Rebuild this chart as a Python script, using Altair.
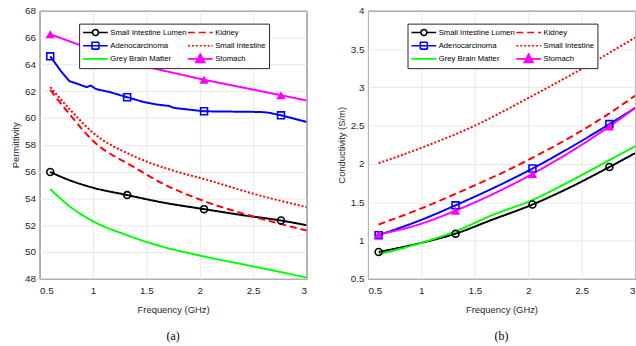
import altair as alt
import pandas as pd

# ---------------- data ----------------
TISSUES = ["Small Intestine Lumen", "Adenocarcinoma", "Grey Brain Matter",
           "Kidney", "Small Intestine", "Stomach"]
COLORS = ["#000000", "#0000ff", "#00ff00", "#ff0000", "#ff0000", "#ff00ff"]
DASHES = [[1, 0], [1, 0], [1, 0], [7, 4], [2, 2], [1, 0]]
MARKER_F = [0.6, 1.32, 2.04, 2.76]

# (a) permittivity
a_lumen_f = [0.6, 0.8, 1.0, 1.32, 1.65, 2.04, 2.4, 2.76, 3.0]
a_lumen_v = [55.97, 55.3, 54.8, 54.25, 53.7, 53.2, 52.75, 52.35, 52.0]
a_kidney_f = [0.6, 0.8, 1.0, 1.37, 1.68, 2.04, 2.5, 3.0]
a_kidney_v = [62.1, 60.1, 58.3, 56.4, 55.0, 53.8, 52.65, 51.6]
a_adeno_f = [0.6, 0.7, 0.78, 0.86, 0.94, 0.98, 1.03, 1.15, 1.32, 1.47,
             1.6, 1.71, 1.76, 2.04, 2.57, 2.64, 2.76, 3.0]
a_adeno_v = [64.6, 63.5, 62.75, 62.54, 62.3, 62.42, 62.15, 61.95, 61.55, 61.2,
             61.0, 60.9, 60.75, 60.5, 60.45, 60.4, 60.2, 59.7]
a_si_f = [0.6, 0.8, 1.0, 1.37, 1.74, 2.04, 2.5, 3.0]
a_si_v = [62.3, 60.5, 58.9, 57.2, 56.1, 55.45, 54.35, 53.35]
a_grey_f = [0.6, 0.8, 1.0, 1.32, 1.65, 2.04, 2.5, 3.0]
a_grey_v = [54.7, 53.3, 52.3, 51.25, 50.4, 49.67, 48.93, 48.1]
a_stom_f = [0.6, 1.32, 2.04, 2.76, 3.0]
a_stom_v = [66.25, 64.15, 62.85, 61.7, 61.3]

# (b) conductivity
b_lumen_f = [0.6, 1.0, 1.32, 1.66, 2.04, 2.4, 2.76, 3.0]
b_lumen_v = [0.85, 0.97, 1.09, 1.27, 1.47, 1.70, 1.96, 2.14]
b_kidney_f = [0.6, 1.0, 1.32, 2.04, 2.76, 3.0]
b_kidney_v = [1.21, 1.42, 1.61, 2.08, 2.66, 2.89]
b_adeno_f = [0.6, 1.0, 1.32, 2.04, 2.76, 3.0]
b_adeno_v = [1.07, 1.27, 1.46, 1.94, 2.52, 2.73]
b_si_f = [0.6, 1.0, 1.5, 2.0, 2.5, 3.0]
b_si_v = [2.01, 2.21, 2.50, 2.86, 3.24, 3.65]
b_grey_f = [0.6, 1.0, 1.32, 1.66, 2.04, 2.4, 2.76, 3.0]
b_grey_v = [0.82, 0.97, 1.12, 1.33, 1.53, 1.78, 2.05, 2.23]
b_stom_f = [0.6, 1.0, 1.32, 2.04, 2.76, 3.0]
b_stom_v = [1.08, 1.22, 1.39, 1.87, 2.49, 2.73]

X_TICKS = [0.5, 1, 1.5, 2, 2.5, 3]
A_TICKS = [48, 50, 52, 54, 56, 58, 60, 62, 64, 66, 68]
B_TICKS = [0.5, 1, 1.5, 2, 2.5, 3, 3.5, 4]

SANS = "Liberation Sans"

def make_df(series):
    rows = []
    for name, fs, vs in series:
        for f, v in zip(fs, vs):
            rows.append({"tissue": name, "f": f, "v": v})
    return pd.DataFrame(rows)

# legend symbols: line + marker (custom paths, 1 unit = 12.5 px at symbolSize 625)
LEG_SHAPES = [
    "M-1,0H-0.24M0.24,0H1M0.24,0A0.24,0.24 0 1,1 -0.24,0A0.24,0.24 0 1,1 0.24,0",
    "M-1,0H1M-0.28,-0.28H0.28V0.28H-0.28Z",
    "M-1,0H1",
    "M-1,0H1",
    "M-1,0H1",
    "M-1,0H1M0,-0.4L0.36,0.3H-0.36Z",
]
LEG_FILL = ["transparent"] * 5 + ["#ff00ff"]


def panel(df, ytitle, ydom, yticks, linear_set, caption):
    x = alt.X("f:Q", scale=alt.Scale(domain=[0.5, 3], nice=False),
              axis=alt.Axis(values=X_TICKS, format="~g", title="Frequency (GHz)",
                            labelPadding=7, titlePadding=9))
    y = alt.Y("v:Q", scale=alt.Scale(domain=ydom, nice=False),
              axis=alt.Axis(values=yticks, format="~g", title=ytitle))
    base = alt.Chart(df).encode(x=x, y=y)
    layers = []
    for name, col, dash in zip(TISSUES, COLORS, DASHES):
        layers.append(
            base.transform_filter(alt.datum.tissue == name).mark_line(
                color=col, strokeDash=dash, strokeWidth=2,
                interpolate="linear" if name in linear_set else "monotone",
                clip=True)
        )
    mk = f"indexof({MARKER_F}, datum.f) >= 0"
    layers.append(base.transform_filter(alt.datum.tissue == "Small Intestine Lumen")
                  .transform_filter(mk)
                  .mark_point(shape="circle", size=49, color="#000000",
                              filled=False, strokeWidth=1.6, opacity=1))
    layers.append(base.transform_filter(alt.datum.tissue == "Adenocarcinoma")
                  .transform_filter(mk)
                  .mark_point(shape="square", size=49, color="#0000ff",
                              filled=False, strokeWidth=1.6, opacity=1))
    layers.append(base.transform_filter(alt.datum.tissue == "Stomach")
                  .transform_filter(mk)
                  .mark_point(shape="triangle-up", size=90, color="#ff00ff",
                              filled=True, opacity=1))
    leg = alt.Legend(orient="none", legendX=40, legendY=13, columns=2, title=None,
                     strokeColor="#262626", fillColor="white", padding=3,
                     symbolSize=625, symbolStrokeWidth=1.6, labelFont=SANS,
                     labelFontSize=7.8, labelColor="#000000", labelOffset=1.5,
                     clipHeight=12, rowPadding=1.3, columnPadding=0,
                     symbolOpacity=1)
    layers.append(
        base.transform_filter("datum.f < 0").mark_point(filled=False, strokeWidth=1.6, opacity=1)
        .encode(
            stroke=alt.Stroke("tissue:N", scale=alt.Scale(domain=TISSUES, range=COLORS), legend=leg),
            strokeDash=alt.StrokeDash("tissue:N", scale=alt.Scale(domain=TISSUES, range=DASHES), legend=leg),
            shape=alt.Shape("tissue:N", scale=alt.Scale(domain=TISSUES, range=LEG_SHAPES), legend=leg),
            fill=alt.Fill("tissue:N", scale=alt.Scale(domain=TISSUES, range=LEG_FILL), legend=leg),
        )
    )
    return alt.layer(*layers).properties(
        width=270, height=271,
        title=alt.TitleParams(caption, orient="bottom", anchor="middle",
                              font="Liberation Serif", fontSize=12,
                              fontWeight="normal", color="#000000", offset=17),
    )


df_a = make_df([
    ("Small Intestine Lumen", a_lumen_f, a_lumen_v),
    ("Kidney", a_kidney_f, a_kidney_v),
    ("Adenocarcinoma", a_adeno_f, a_adeno_v),
    ("Small Intestine", a_si_f, a_si_v),
    ("Grey Brain Matter", a_grey_f, a_grey_v),
    ("Stomach", a_stom_f, a_stom_v),
])
df_b = make_df([
    ("Small Intestine Lumen", b_lumen_f, b_lumen_v),
    ("Kidney", b_kidney_f, b_kidney_v),
    ("Adenocarcinoma", b_adeno_f, b_adeno_v),
    ("Small Intestine", b_si_f, b_si_v),
    ("Grey Brain Matter", b_grey_f, b_grey_v),
    ("Stomach", b_stom_f, b_stom_v),
])

pa = panel(df_a, "Permittivity", [48, 68], A_TICKS,
           {"Adenocarcinoma", "Stomach"}, "(a)")
pb = panel(df_b, "Conductivity (S/m)", [0.5, 4], B_TICKS, set(), "(b)")

chart = alt.hconcat(pa, pb, spacing=28).resolve_scale(
    stroke="independent", strokeDash="independent", shape="independent", fill="independent"
).resolve_legend(
    stroke="independent", strokeDash="independent", shape="independent", fill="independent"
).properties(
    padding={"left": 10, "top": 3, "right": 0, "bottom": 0},
    background="white",
).configure_view(
    stroke="#262626", strokeWidth=1
).configure_axis(
    labelFont=SANS, labelFontSize=10, labelColor="#262626",
    titleFont=SANS, titleFontSize=9.5, titleFontWeight="normal", titleColor="#262626",
    grid=True, gridColor="#e3e3e3", gridWidth=0.8,
    domain=False, ticks=False, labelPadding=4, titlePadding=4,
)

chart.save("out.html", embed_options={"renderer": "svg", "actions": False})
